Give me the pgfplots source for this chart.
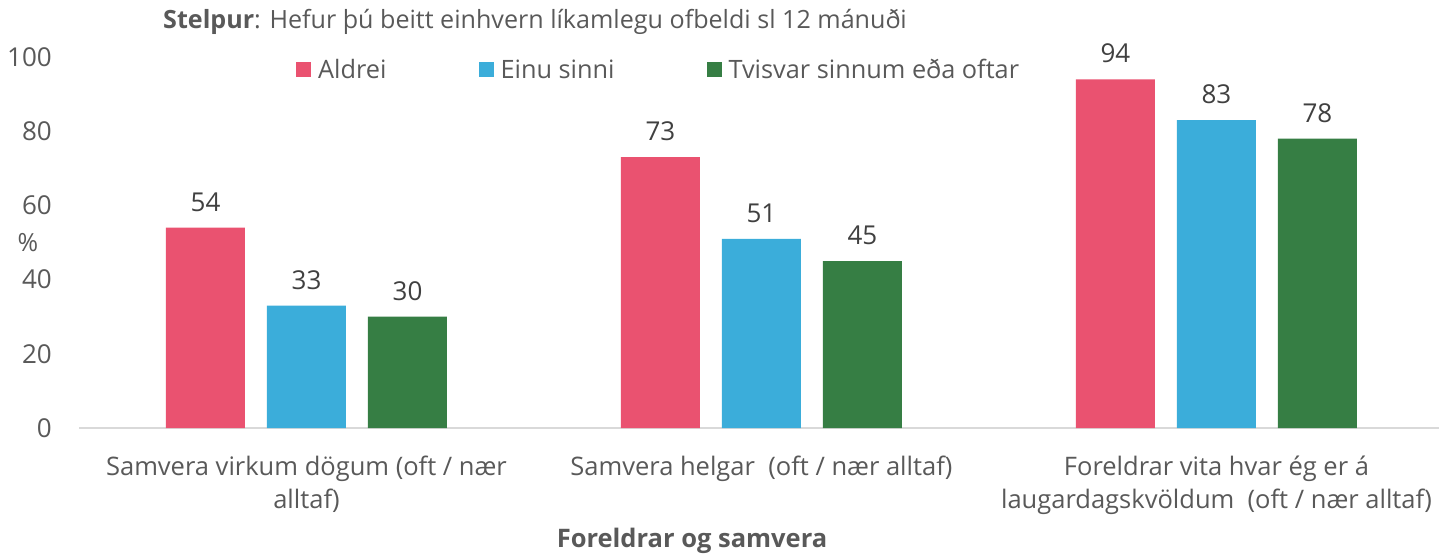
\documentclass[border=0pt]{standalone}
\usepackage{fontspec}
\setmainfont{Open Sans}
\usepackage{pgfplots}
\pgfplotsset{compat=1.18}
\definecolor{cred}{HTML}{EA5270}
\definecolor{cblue}{HTML}{3BADDA}
\definecolor{cgreen}{HTML}{367E44}
\definecolor{txt}{HTML}{595959}
\definecolor{lbl}{HTML}{404040}
\definecolor{base}{HTML}{D9D9D9}
\begin{document}
\begin{tikzpicture}[x=1pt,y=1pt]
\path[use as bounding box] (0,0) rectangle (1439,554);
\begin{axis}[
  at={(79pt,126pt)}, anchor=south west,
  scale only axis, width=1365pt, height=371pt,
  xmin=-0.5, xmax=2.5, ymin=0, ymax=100,
  ybar=22pt, bar width=79pt,
  axis x line*=bottom, axis y line*=left,
  y axis line style={draw=none},
  x axis line style={draw=base, line width=1.5pt},
  major tick length=0pt,
  xtick={0,1,2},
  xticklabels={{Samvera virkum dögum (oft / nær\\alltaf)},{Samvera helgar\ \ (oft / nær alltaf)},{Foreldrar vita hvar ég er á\\laugardagskvöldum\ \ (oft / nær alltaf)}},
  xticklabel style={align=center, font=\fontsize{25.5}{33}\selectfont, text=txt, inner sep=0pt, yshift=-28pt},
  ytick={0,20,40,60,80,100},
  yticklabel style={font=\fontsize{26}{30}\selectfont, text=txt, inner sep=0pt, xshift=-27pt},
  /pgf/number format/assume math mode=true,
  nodes near coords,
  every node near coord/.append style={font=\fontsize{26}{30}\selectfont, text=lbl, inner sep=0pt, anchor=south, yshift=16pt},
  legend columns=3,
  legend style={at={(0.159,0.965)}, anchor=west, draw=none, fill=none, inner sep=0pt,
    font=\fontsize{25.3}{30}\selectfont, text=txt,
    nodes={inner sep=0pt},
    /tikz/every odd column/.append style={column sep=7pt},
    /tikz/every even column/.append style={column sep=92pt}},
  legend image code/.code={\fill[#1,draw=none] (0pt,-7.5pt) rectangle (15pt,7.5pt);},
]
\addplot[fill=cred, draw=none] coordinates {(0,54) (1,73) (2,94)};
\addplot[fill=cblue, draw=none] coordinates {(0,33) (1,51) (2,83)};
\addplot[fill=cgreen, draw=none] coordinates {(0,30) (1,45) (2,78)};
\legend{Aldrei, Einu sinni, Tvisvar sinnum eða oftar}
\end{axis}
\node[anchor=west, inner sep=0pt, text=txt, font=\fontsize{25.1}{28}\selectfont] at (163,532) {\textbf{Stelpur}: Hefur þú beitt einhvern líkamlegu ofbeldi sl 12 mánuði};
\node[inner sep=0pt, text=txt, font=\bfseries\fontsize{25.5}{30}\selectfont] at (692,13) {Foreldrar og samvera};
\node[inner sep=0pt, text=txt, font=\fontsize{25}{30}\selectfont] at (28,311) {\%};
\end{tikzpicture}
\end{document}
